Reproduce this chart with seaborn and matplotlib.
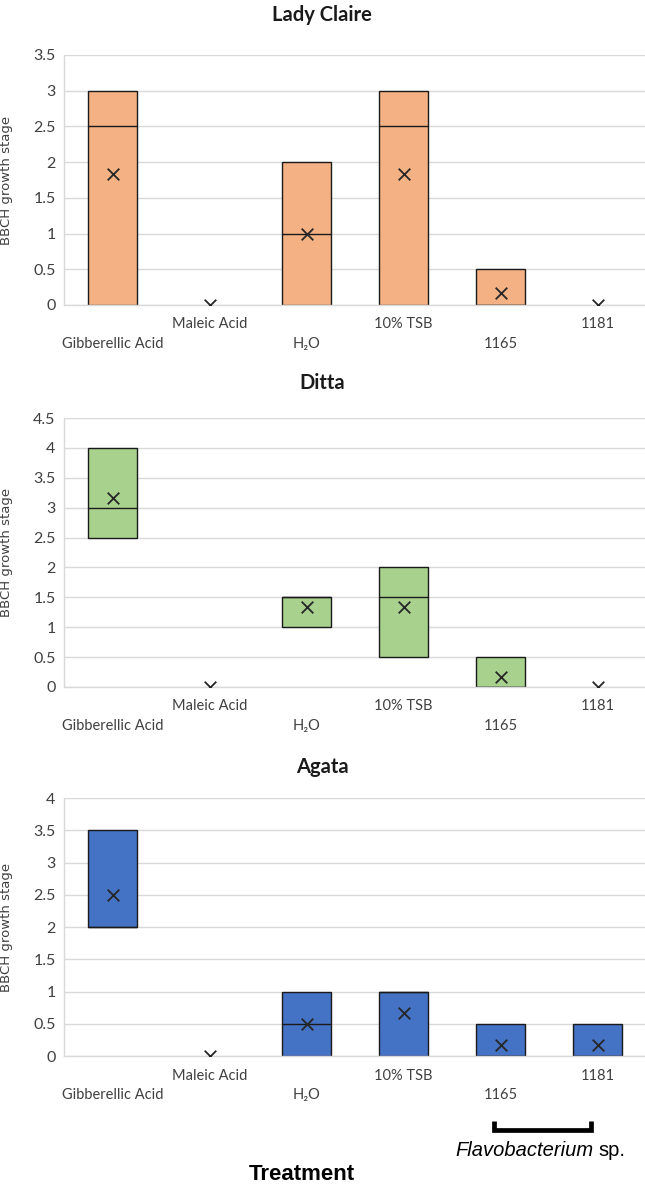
import numpy as np
import pandas as pd
import matplotlib
matplotlib.use("Agg")
import matplotlib.pyplot as plt
from matplotlib.lines import Line2D
import seaborn as sns

# ---------------- data ----------------
treatments = ["Gibberellic Acid", "Maleic Acid", "H\u2082O", "10% TSB", "1165", "1181"]
varieties = ["Lady Claire", "Ditta", "Agata"]

lc_q1 = [0, 0, 0, 0, 0, 0]
lc_median = [2.5, 0, 1, 2.5, 0, 0]
lc_q3 = [3, 0, 2, 3, 0.5, 0]
lc_mean = [1.83, 0, 1, 1.83, 0.17, 0]

di_q1 = [2.5, 0, 1, 0.5, 0, 0]
di_median = [3, 0, 1.5, 1.5, 0, 0]
di_q3 = [4, 0, 1.5, 2, 0.5, 0]
di_mean = [3.17, 0, 1.33, 1.33, 0.17, 0]

ag_q1 = [2, 0, 0, 0, 0, 0]
ag_median = [2, 0, 0.5, 1, 0, 0]
ag_q3 = [3.5, 0, 1, 1, 0.5, 0.5]
ag_mean = [2.5, 0, 0.5, 0.67, 0.17, 0.17]

y_max = [3.5, 4.5, 4]
colors = ["#F4B183", "#A9D18E", "#4472C4"]

panels = [
    (lc_q1, lc_median, lc_q3, lc_mean),
    (di_q1, di_median, di_q3, di_mean),
    (ag_q1, ag_median, ag_q3, ag_mean),
]

# ---------------- style ----------------
sns.set_theme(style="white")
plt.rcParams["font.family"] = ["Lato", "DejaVu Sans"]

W, H = 645, 1186
fig = plt.figure(figsize=(W / 100, H / 100), dpi=100)

# axes boxes in pixels: (top, bottom)
ax_px = [(55, 305), (418, 687), (798, 1056)]
title_px = [15, 383, 767]
left_px, right_px = 64, 646

tick_labels = [("\n" + t) if i % 2 == 0 else t for i, t in enumerate(treatments)]

for k, (q1, med, q3, mean) in enumerate(panels):
    top, bot = ax_px[k]
    ax = fig.add_axes([left_px / W, 1 - bot / H, (right_px - left_px) / W, (bot - top) / H])
    df = pd.DataFrame({
        "Treatment": treatments,
        "q1": q1,
        "median": med,
        "q3": q3,
        "mean": mean,
    })
    df["height"] = df["q3"] - df["q1"]

    sns.barplot(data=df, x="Treatment", y="height", order=treatments,
                bottom=df["q1"].to_numpy(), color=colors[k], saturation=1,
                width=0.5, edgecolor="#1a1a1a", linewidth=1.0, errorbar=None,
                ax=ax, zorder=2)
    # empty (zero-range) boxes draw nothing in the original
    for p in ax.patches:
        if p.get_height() == 0:
            p.set_visible(False)
    xs = np.arange(len(treatments))
    has_box = (df["height"] > 0).to_numpy()
    ax.hlines(df["median"][has_box], xs[has_box] - 0.25, xs[has_box] + 0.25,
              color="#1a1a1a", lw=1.0, zorder=3)
    sns.scatterplot(data=df, x="Treatment", y="mean", marker="x", s=70,
                    color="#262626", linewidth=1.3, ax=ax, zorder=4)

    ax.set_xlim(-0.5, 5.5)
    ax.set_ylim(0, y_max[k])
    yt = np.arange(0, y_max[k] + 0.01, 0.5)
    ax.set_yticks(yt)
    ax.set_yticklabels([f"{v:g}" for v in yt], fontsize=11.5, color="#404040")
    ax.set_xticks(xs)
    ax.set_xticklabels(tick_labels, fontsize=10.5, color="#404040", linespacing=1.5)
    ax.tick_params(axis="x", length=0, pad=9)
    ax.tick_params(axis="y", length=0, pad=6)
    ax.yaxis.grid(True, color="#D9D9D9", lw=1.0)
    ax.set_axisbelow(True)
    for s in ["top", "right"]:
        ax.spines[s].set_visible(False)
    for s in ["left", "bottom"]:
        ax.spines[s].set_color("#D9D9D9")
        ax.spines[s].set_linewidth(1.0)
    ax.set_xlabel("")
    ax.set_ylabel("BBCH growth stage", fontsize=9.5, color="#404040",
                  family=["DejaVu Sans"], labelpad=6)
    ax.yaxis.set_label_coords(-(64 - 13) / (right_px - left_px), 0.5)

    fig.text(322 / W, 1 - title_px[k] / H, varieties[k], ha="center", va="center",
             fontsize=14.5, fontweight="bold", color="#1a1a1a")

# bracket for Flavobacterium sp.
bx = [494 / W, 494 / W, 591 / W, 591 / W]
by = [1 - 1121 / H, 1 - 1130 / H, 1 - 1130 / H, 1 - 1121 / H]
fig.add_artist(Line2D(bx, by, transform=fig.transFigure, color="black", lw=3.4,
                      solid_joinstyle="miter", solid_capstyle="butt"))

fig.text(594 / W, 1 - 1150 / H, "Flavobacterium", ha="right", va="center",
         fontsize=14.5, style="italic", family=["Liberation Sans"], color="black")
fig.text(598 / W, 1 - 1150 / H, "sp.", ha="left", va="center",
         fontsize=14.5, family=["Liberation Sans"], color="black")

fig.text(302 / W, 1 - 1175 / H, "Treatment", ha="center", va="center",
         fontsize=16, fontweight="bold", family=["Liberation Sans"], color="black")

fig.savefig("out.png", dpi=100)
